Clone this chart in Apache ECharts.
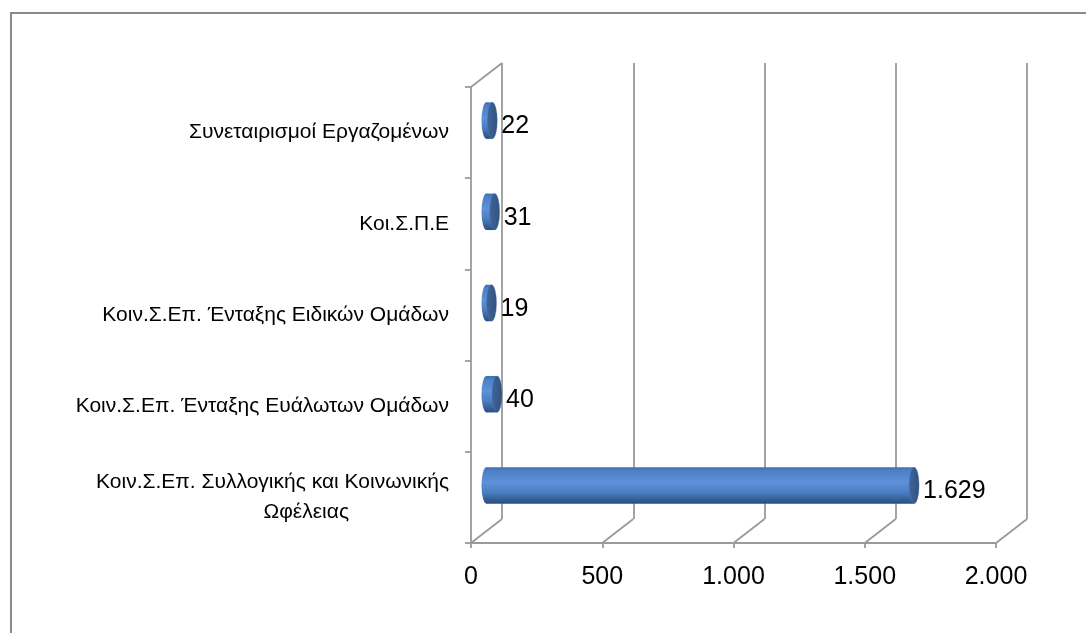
<!DOCTYPE html>
<html>
<head>
<meta charset="utf-8">
<script src="https://cdn.jsdelivr.net/npm/echarts@6/dist/echarts.min.js"></script>
<style>
  html, body { margin: 0; padding: 0; background: #fff; }
  #main { width: 1086px; height: 633px; }
</style>
</head>
<body>
<div id="main"></div>
<script>
// data (top to bottom as in the chart)
var categories = [
  'Συνεταιρισμοί Εργαζομένων',
  'Κοι.Σ.Π.Ε',
  'Κοιν.Σ.Επ. Ένταξης Ειδικών Ομάδων',
  'Κοιν.Σ.Επ. Ένταξης Ευάλωτων Ομάδων',
  'Κοιν.Σ.Επ. Συλλογικής και Κοινωνικής\nΩφέλειας'
];
var values = [22, 31, 19, 40, 1629];
var xTicks = [0, 500, 1000, 1500, 2000];

var depthX = 31, depthY = -24;
var gridColor = '#9a9a9a';
var font = '"Liberation Sans", Arial, sans-serif';

function fmtNum(v) {
  return String(v).replace(/\B(?=(\d{3})+(?!\d))/g, '.');
}

var myChart = echarts.init(document.getElementById('main'));

var option = {
  backgroundColor: '#fff',
  animation: false,
  graphic: [{
    type: 'polyline',
    shape: { points: [[11, 660], [11, 13], [1100, 13]] },
    style: { stroke: '#8a8a8a', lineWidth: 2, fill: null }
  }],
  grid: [
    { left: 471, top: 87, width: 525, height: 456 },          // front
    { left: 471 + depthX, top: 87 + depthY, width: 525, height: 456 } // back wall
  ],
  xAxis: [{
    gridIndex: 0, type: 'value', min: 0, max: 2000, interval: 500,
    axisLine: { show: true, lineStyle: { color: gridColor, width: 1.8 } },
    axisTick: { show: true, length: 5, lineStyle: { color: gridColor, width: 1.8 } },
    splitLine: { show: false },
    axisLabel: { formatter: fmtNum, fontSize: 25, fontFamily: font, color: '#000', margin: 22 }
  }, {
    gridIndex: 1, type: 'value', min: 0, max: 2000, interval: 500,
    axisLine: { show: false }, axisTick: { show: false }, axisLabel: { show: false },
    splitLine: { show: true, lineStyle: { color: gridColor, width: 1.8 } }
  }],
  yAxis: [{
    gridIndex: 0, type: 'category', data: categories, inverse: true,
    axisLine: { show: true, lineStyle: { color: gridColor, width: 1.8 } },
    axisTick: { show: true, length: 6, lineStyle: { color: gridColor, width: 1.8 } },
    axisLabel: {
      fontSize: 21, fontFamily: font, color: '#000', margin: 22, lineHeight: 30,
      formatter: function (v) {
        var parts = v.split('\n');
        if (parts.length > 1) return parts[0] + '\n{p|' + parts[1] + '}';
        return v;
      },
      rich: { p: { fontSize: 21, fontFamily: font, color: '#000', lineHeight: 30, padding: [0, 100, 0, 0] } }
    }
  }, {
    gridIndex: 1, type: 'category', data: categories, inverse: true, show: false
  }],
  series: [{
    // floor / side-wall diagonals
    type: 'custom', xAxisIndex: 0, yAxisIndex: 0, silent: true,
    data: xTicks.map(function (v) { return [v, 0]; }),
    renderItem: function (params, api) {
      var cs = params.coordSys;
      var x = api.coord([api.value(0), 0])[0];
      var yb = cs.y + cs.height;
      var st = { stroke: gridColor, lineWidth: 1.8 };
      var kids = [{ type: 'line', shape: { x1: x, y1: yb, x2: x + depthX, y2: yb + depthY }, style: st }];
      if (params.dataIndex === 0) {
        kids.push({ type: 'line', shape: { x1: x, y1: cs.y, x2: x + depthX, y2: cs.y + depthY }, style: st });
      }
      return { type: 'group', children: kids };
    }
  }, {
    // cylinder bars
    type: 'custom', xAxisIndex: 0, yAxisIndex: 0, clip: false,
    data: values.map(function (v, i) { return [v, i]; }),
    encode: { x: 0, y: 1 },
    renderItem: function (params, api) {
      var val = api.value(0), cat = api.value(1);
      var p0 = api.coord([0, cat]);
      var p1 = api.coord([val, cat]);
      var band = api.size([0, 1])[1];
      var ry = band * 0.2;
      var rx = 5;
      var cx0 = p0[0] + depthX / 2, cx1 = p1[0] + depthX / 2, cy = p0[1] + depthY / 2;
      var bodyGrad = new echarts.graphic.LinearGradient(0, 0, 0, 1, [
        { offset: 0, color: '#416fae' },
        { offset: 0.1, color: '#4d80c5' },
        { offset: 0.42, color: '#5d91d8' },
        { offset: 0.7, color: '#4a7cc0' },
        { offset: 0.9, color: '#355c95' },
        { offset: 1, color: '#2c4d7e' }
      ]);
      var capGrad = new echarts.graphic.LinearGradient(0, 0, 1, 0, [
        { offset: 0, color: '#40659b' },
        { offset: 1, color: '#31527f' }
      ]);
      return {
        type: 'group',
        children: [{
          type: 'circle', x: cx0, y: cy, scaleX: rx / ry,
          shape: { cx: 0, cy: 0, r: ry }, style: { fill: bodyGrad }
        }, {
          type: 'rect', shape: { x: cx0, y: cy - ry, width: Math.max(cx1 - cx0, 0), height: ry * 2 },
          style: { fill: bodyGrad }
        }, {
          type: 'circle', x: cx1, y: cy, scaleX: rx / ry,
          shape: { cx: 0, cy: 0, r: ry }, style: { fill: capGrad, stroke: '#4f79b3', lineWidth: 0.6 }
        }, {
          type: 'text', x: cx1 + rx + 4, y: cy + 6,
          style: {
            text: fmtNum(val), fill: '#000', font: '25px ' + font,
            textAlign: 'left', textVerticalAlign: 'middle', align: 'left', verticalAlign: 'middle'
          }
        }]
      };
    }
  }]
};

myChart.setOption(option);
</script>
</body>
</html>
